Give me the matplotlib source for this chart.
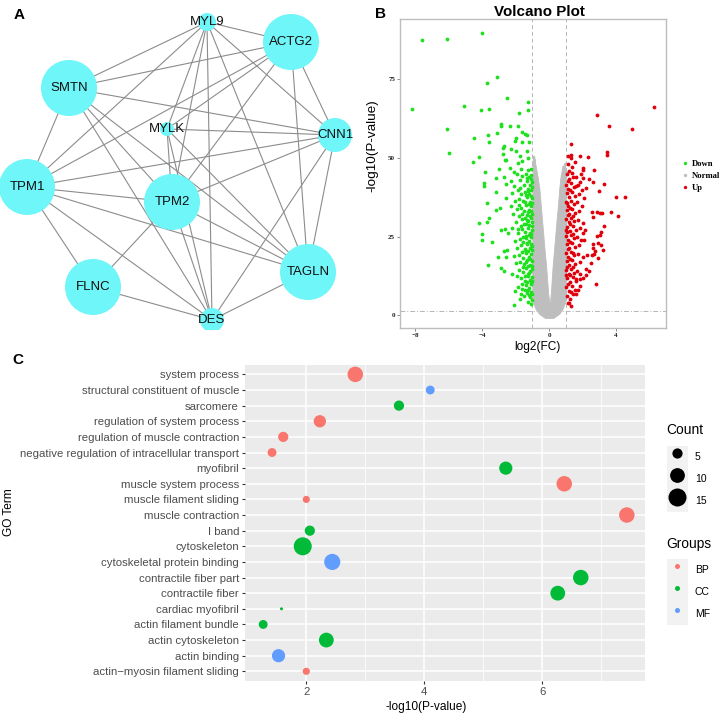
import numpy as np
import matplotlib.pyplot as plt
from matplotlib.patches import Circle, Patch
from matplotlib.lines import Line2D
from matplotlib.legend_handler import HandlerTuple

plt.rcParams['font.family'] = ['Liberation Sans', 'DejaVu Sans']

W, H = 723, 717

# ==========================
#   A: PPI network
# ==========================
genes = ['MYL9', 'ACTG2', 'SMTN', 'MYLK', 'CNN1', 'TPM1', 'TPM2', 'TAGLN', 'FLNC', 'DES']
node_x = [207, 291, 69, 167, 335, 27, 172, 308, 93, 212]
node_y = [22, 42, 88, 129, 135, 187, 202, 272, 287, 320]
node_r = [9, 28, 28, 7, 17, 28, 28, 28, 28, 12]
links = [
    ('MYL9', 'ACTG2'), ('MYL9', 'SMTN'), ('MYL9', 'TPM1'), ('MYL9', 'MYLK'),
    ('MYL9', 'TPM2'), ('MYL9', 'DES'), ('MYL9', 'TAGLN'), ('MYL9', 'CNN1'),
    ('ACTG2', 'SMTN'), ('ACTG2', 'TPM1'), ('ACTG2', 'MYLK'), ('ACTG2', 'TPM2'),
    ('ACTG2', 'CNN1'), ('ACTG2', 'TAGLN'),
    ('SMTN', 'CNN1'), ('SMTN', 'TPM1'), ('SMTN', 'TPM2'), ('SMTN', 'TAGLN'), ('SMTN', 'DES'),
    ('TPM1', 'CNN1'), ('TPM1', 'TPM2'), ('TPM1', 'TAGLN'), ('TPM1', 'FLNC'), ('TPM1', 'DES'),
    ('MYLK', 'CNN1'), ('MYLK', 'TPM2'), ('MYLK', 'TAGLN'), ('MYLK', 'DES'),
    ('CNN1', 'TPM2'), ('CNN1', 'TAGLN'), ('CNN1', 'DES'),
    ('TPM2', 'FLNC'), ('TPM2', 'DES'), ('TPM2', 'TAGLN'),
    ('TAGLN', 'DES'), ('FLNC', 'DES'),
]

# ==========================
#   B: volcano plot
# ==========================
down_pts = [
    (-7.62, 87.3), (-6.09, 87.7), (-4.0, 89.6), (-3.14, 75.5), (-3.70, 73.7), (-2.54, 68.8),
    (-8.2, 65.4), (-5.11, 66.5), (-4.05, 65.0), (-3.62, 65.5), (-1.25, 67.6), (-1.25, 65.1),
    (-1.79, 64.1), (-6.09, 59.0), (-5.97, 51.6), (-2.85, 60.8), (-2.9, 60.0), (-2.36, 60.0),
    (-1.85, 60.1), (-3.10, 57.7), (-3.64, 57.1), (-3.62, 55.0), (-4.5, 56.2), (-4.18, 50.3),
    (-4.57, 48.7), (-1.61, 58.1), (-1.47, 57.4), (-1.30, 57.1), (-2.0, 56.2), (-2.05, 55.2),
    (-1.61, 55.1), (-1.2, 54.9), (-2.27, 52.9), (-2.7, 53.8), (-2.74, 53.0), (-2.0, 52.0),
    (-1.31, 52.0), (-2.76, 51.2), (-1.77, 50.4), (-1.24, 50.0), (-2.66, 49.3), (-2.56, 49.2),
    (-1.6, 49.1), (-1.85, 48.3), (-3.02, 46.3), (-3.85, 45.4), (-2.32, 46.7), (-2.09, 45.6),
    (-1.7, 46.4), (-1.27, 46.2), (-1.06, 46.4), (-2.68, 43.9), (-3.17, 43.5), (-3.87, 42.0),
    (-3.87, 41.0), (-2.58, 41.6), (-2.3, 42.5), (-3.18, 39.0), (-2.60, 37.1), (-3.74, 35.6),
    (-4.22, 29.3), (-3.74, 29.5), (-3.57, 30.9), (-3.19, 33.5), (-2.94, 34.0), (-4.02, 25.8),
    (-4.02, 24.0), (-3.42, 23.2), (-2.88, 27.2), (-2.66, 27.3), (-2.46, 26.2), (-3.68, 16.1),
    (-3.08, 18.6), (-2.85, 14.9), (-2.70, 14.2), (-2.57, 18.6), (-2.7, 20.5), (-2.5, 20.7),
    (-2.09, 3.2), (-2.05, 7.6),
    (-1.08, 44.6), (-1.22, 44.0), (-1.41, 44.9), (-1.63, 44.3), (-1.95, 44.7),
    (-1.04, 42.3), (-1.16, 41.2), (-1.33, 42.6), (-1.52, 41.5), (-1.74, 42.8), (-2.12, 41.1),
    (-1.06, 39.8), (-1.19, 38.6), (-1.28, 40.1), (-1.46, 39.2), (-1.68, 38.4), (-1.87, 39.7),
    (-2.24, 38.9), (-1.03, 37.2), (-1.13, 36.1), (-1.31, 37.5), (-1.55, 36.4), (-1.79, 37.0),
    (-2.02, 36.2), (-1.07, 34.6), (-1.21, 33.5), (-1.37, 34.9), (-1.49, 33.2), (-1.66, 34.1),
    (-1.92, 33.7), (-2.31, 34.8), (-1.02, 32.1), (-1.15, 31.4), (-1.26, 32.7), (-1.43, 31.0),
    (-1.61, 32.3), (-1.83, 31.6), (-2.15, 32.0), (-1.05, 29.7), (-1.18, 28.6), (-1.34, 30.2),
    (-1.52, 29.0), (-1.71, 28.3), (-1.97, 29.5), (-1.03, 27.1), (-1.12, 26.2), (-1.29, 27.6),
    (-1.45, 26.5), (-1.64, 27.3), (-1.88, 26.0), (-2.21, 27.8), (-1.06, 24.8), (-1.2, 23.6),
    (-1.38, 24.5), (-1.56, 23.2), (-1.76, 24.1), (-2.04, 23.7), (-1.02, 22.0), (-1.14, 21.3),
    (-1.31, 22.6), (-1.47, 21.1), (-1.69, 22.2), (-1.93, 21.5), (-1.07, 19.6), (-1.22, 18.5),
    (-1.4, 19.9), (-1.58, 18.2), (-1.81, 19.3), (-2.13, 18.8), (-1.03, 17.2), (-1.17, 16.1),
    (-1.33, 17.5), (-1.51, 16.4), (-1.73, 17.0), (-1.99, 16.6), (-1.05, 14.7), (-1.19, 13.4),
    (-1.36, 14.9), (-1.54, 13.8), (-1.78, 14.3), (-2.22, 13.1), (-1.02, 12.1), (-1.13, 11.2),
    (-1.28, 12.4), (-1.46, 11.0), (-1.67, 11.8), (-1.06, 9.8), (-1.21, 8.7), (-1.39, 9.5),
    (-1.6, 8.3), (-1.86, 9.1), (-1.03, 6.9), (-1.15, 5.8), (-1.32, 7.2), (-1.52, 6.1),
    (-1.74, 5.3), (-1.08, 3.6), (-1.26, 4.4),
    (-1.1, 43.3), (-1.3, 43.7), (-1.01, 40.6), (-1.24, 39.4), (-1.37, 38.1), (-1.1, 37.8),
    (-1.23, 35.2), (-1.42, 35.9), (-1.01, 35.5), (-1.11, 33.0), (-1.31, 31.9), (-1.38, 29.1),
    (-1.1, 30.8), (-1.25, 29.9), (-1.01, 28.2), (-1.23, 25.4), (-1.09, 25.9), (-1.41, 25.3),
    (-1.33, 23.1), (-1.1, 22.7), (-1.25, 20.4), (-1.01, 20.6), (-1.45, 20.8), (-1.12, 18.0),
    (-1.29, 15.8), (-1.4, 16.9), (-1.01, 15.6), (-1.12, 14.1), (-1.27, 13.0), (-1.42, 12.6),
    (-1.1, 10.4), (-1.33, 10.7), (-1.01, 10.9), (-1.25, 7.9), (-1.1, 7.5), (-1.45, 8.1),
    (-1.2, 6.5), (-1.04, 4.9), (-1.63, 30.7), (-1.58, 25.0), (-1.62, 20.1), (-1.57, 15.2),
    (-1.6, 10.1), (-1.8, 35.1), (-1.85, 27.4), (-1.9, 12.6), (-1.75, 40.5), (-1.68, 6.9),
]
up_pts = [
    (6.27, 66.2), (2.87, 63.4), (3.58, 60.0), (4.94, 59.0), (1.30, 54.5), (3.45, 51.8),
    (3.45, 50.8), (1.12, 50.6), (1.30, 50.9), (1.33, 50.0), (1.87, 50.4), (2.31, 50.2),
    (1.57, 48.5), (1.10, 48.1), (1.37, 47.0), (2.03, 46.8), (2.03, 46.0), (1.20, 45.7),
    (2.69, 46.2), (1.43, 43.9), (2.03, 43.6), (2.37, 43.2), (3.29, 41.8), (2.63, 42.2),
    (2.99, 39.6), (1.83, 42.2), (1.63, 40.9), (2.23, 40.4), (1.99, 39.7), (4.02, 37.4),
    (4.52, 37.4), (4.12, 31.4), (3.70, 32.7), (3.15, 32.5), (2.87, 32.7), (2.59, 32.7),
    (2.63, 31.2), (3.03, 32.4), (3.31, 28.3), (3.09, 26.4), (3.03, 25.6), (2.89, 25.1),
    (2.93, 23.0), (2.63, 21.4), (2.73, 20.4), (2.29, 19.3), (2.59, 19.0), (2.23, 14.8),
    (2.23, 12.7), (2.03, 11.9), (2.79, 9.8), (1.83, 13.0), (1.63, 11.6), (2.15, 27.2),
    (2.03, 26.2), (2.09, 24.0), (1.83, 9.2), (1.73, 8.0), (1.63, 6.9), (1.30, 2.9),
    (1.18, 4.0), (2.7, 19.5), (2.5, 16.5), (2.4, 14.0), (2.6, 22.5), (3.1, 22.4),
    (3.2, 20.8), (2.9, 18.2),
    (1.04, 44.8), (1.18, 43.1), (1.35, 45.3), (1.62, 44.0), (1.88, 44.9),
    (1.02, 41.5), (1.15, 40.2), (1.31, 42.0), (1.48, 40.8), (1.72, 41.4),
    (1.06, 38.7), (1.21, 37.5), (1.39, 39.1), (1.55, 37.9), (1.81, 38.5), (2.1, 37.2),
    (1.03, 36.0), (1.13, 34.8), (1.29, 36.4), (1.46, 35.2), (1.67, 35.9), (1.95, 34.6),
    (1.05, 33.3), (1.19, 32.1), (1.36, 33.7), (1.53, 32.5), (1.76, 33.0),
    (1.02, 30.6), (1.16, 29.5), (1.32, 31.0), (1.49, 29.8), (1.7, 30.4), (2.0, 29.2),
    (1.07, 27.9), (1.22, 26.7), (1.41, 28.3), (1.58, 27.1), (1.83, 27.7),
    (1.03, 25.2), (1.14, 24.0), (1.3, 25.6), (1.47, 24.4), (1.66, 25.0), (1.92, 23.9),
    (1.06, 22.5), (1.2, 21.3), (1.37, 22.9), (1.55, 21.7), (1.78, 22.3),
    (1.02, 19.8), (1.15, 18.6), (1.33, 20.2), (1.5, 19.0), (1.71, 19.6), (2.05, 18.4),
    (1.05, 17.1), (1.21, 15.9), (1.39, 17.5), (1.57, 16.3), (1.84, 16.9),
    (1.03, 14.4), (1.16, 13.2), (1.31, 14.8), (1.48, 13.6), (1.69, 14.2),
    (1.07, 11.7), (1.23, 10.5), (1.4, 12.1), (1.59, 10.9), (1.85, 11.5),
    (1.02, 9.0), (1.17, 7.8), (1.35, 9.4), (1.52, 8.2),
    (1.06, 6.3), (1.25, 5.1), (1.44, 6.7), (1.1, 3.9),
    (1.1, 42.6), (1.25, 39.8), (1.08, 35.5), (1.24, 34.1), (1.11, 31.8), (1.26, 28.9),
    (1.09, 26.3), (1.24, 23.4), (1.11, 20.9), (1.27, 18.0), (1.09, 15.3), (1.25, 12.7),
    (1.12, 9.9), (1.3, 7.4), (1.01, 27.0), (1.01, 12.8), (1.43, 31.6), (1.44, 19.9),
    (1.42, 25.9), (1.45, 15.5),
]
# "Normal" genes form a dense grey V; kept as the envelope
normal_left_y = [-0.8, 0.5, 2, 4, 7, 10, 15, 20, 25, 30, 35, 40, 45, 49, 50.5]
normal_left_outer = [-0.25, -0.6, -0.8, -0.95, -1.0, -1.0, -1.0, -1.0, -1.0, -1.0, -1.0, -1.0, -0.99, -0.97, -0.94]
normal_left_inner = [0.0, 0.15, 0.1, 0.02, -0.06, -0.1, -0.17, -0.26, -0.34, -0.42, -0.5, -0.58, -0.72, -0.86, -0.9]
normal_right_y = [-0.8, 0.5, 2, 4, 7, 10, 15, 20, 25, 30, 35, 40, 44, 47.5]
normal_right_inner = [0.0, -0.1, -0.05, 0.05, 0.1, 0.14, 0.2, 0.28, 0.36, 0.44, 0.53, 0.6, 0.68, 0.8]
normal_right_outer = [0.25, 0.6, 0.8, 0.95, 1.0, 1.0, 1.0, 1.0, 1.0, 1.0, 1.0, 1.0, 0.99, 0.95]
normal_pts = [(-0.95, 50.3), (-0.9, 49.2), (0.93, 48.0), (0.86, 47.1), (-0.97, 47.8), (0.98, 45.5)]
fc_cut = [-1, 1]
p_cut = 1.3

# ==========================
#   C: GO enrichment
# ==========================
go_terms = ['actin\u2212myosin filament sliding', 'actin binding', 'actin cytoskeleton',
            'actin filament bundle', 'cardiac myofibril', 'contractile fiber',
            'contractile fiber part', 'cytoskeletal protein binding', 'cytoskeleton', 'I band',
            'muscle contraction', 'muscle filament sliding', 'muscle system process', 'myofibril',
            'negative regulation of intracellular transport', 'regulation of muscle contraction',
            'regulation of system process', 'sarcomere', 'structural constituent of muscle',
            'system process']
go_logp = [2.0, 1.53, 2.34, 1.27, 1.58, 6.26, 6.65, 2.44, 1.94, 2.06,
           7.43, 2.0, 6.37, 5.38, 1.42, 1.61, 2.23, 3.57, 4.10, 2.83]
go_count = [3, 8, 10, 4, 2, 10, 11, 12, 15, 5,
            11, 3, 11, 8, 4, 5, 7, 5, 4, 11]
go_group = ['BP', 'MF', 'CC', 'CC', 'CC', 'CC', 'CC', 'MF', 'CC', 'CC',
            'BP', 'BP', 'BP', 'CC', 'BP', 'BP', 'BP', 'CC', 'MF', 'BP']
groups = ['BP', 'CC', 'MF']
group_colors = {'BP': '#F8766D', 'CC': '#00BA38', 'MF': '#619CFF'}
count_breaks = [5, 10, 15]


def px_box(l, t, r, b):
    return [l / W, 1 - b / H, (r - l) / W, (b - t) / H]


def dot_pt(c):
    # ggplot-like area scale, counts 2..15 -> diameter in points
    d_px = 3.0 * (1 + 5 * np.sqrt((np.asarray(c, float) - 2) / 13))
    return d_px * 0.72


fig = plt.figure(figsize=(W / 100, H / 100), dpi=100)

# ---------- A ----------
axA = fig.add_axes([0, 1 - 330 / H, 360 / W, 330 / H])
axA.set_xlim(0, 360)
axA.set_ylim(330, 0)
axA.axis('off')
pos = {g: (x, y) for g, x, y in zip(genes, node_x, node_y)}
for a, b in links:
    axA.plot([pos[a][0], pos[b][0]], [pos[a][1], pos[b][1]], color='#8C8C8C', lw=0.8, zorder=1)
for g, x, y, r in zip(genes, node_x, node_y, node_r):
    axA.add_patch(Circle((x, y), r, facecolor='#6FF6F8', edgecolor='none', zorder=2))
    axA.text(x, y, g, ha='center', va='center', fontsize=9.5, color='#111111', zorder=3)

# ---------- B ----------
axB = fig.add_axes(px_box(400, 19, 666, 328))
down = np.array(down_pts)
up = np.array(up_pts)
normal = np.array(normal_pts)
grey = '#BEBEBE'
axB.fill_betweenx(normal_left_y, normal_left_outer, normal_left_inner, color=grey, lw=0.6, ec=grey)
axB.fill_betweenx(normal_right_y, normal_right_inner, normal_right_outer, color=grey, lw=0.6, ec=grey)
axB.scatter(normal[:, 0], normal[:, 1], s=6, color=grey, lw=0)
axB.scatter(down[:, 0], down[:, 1], s=7.5, color='#1EE01E', lw=0)
axB.scatter(up[:, 0], up[:, 1], s=7.5, color='#E0000C', lw=0)
for v in fc_cut:
    axB.axvline(v, color='#B5B5B5', lw=0.7, ls=(0, (4, 3)), zorder=0)
axB.axhline(p_cut, color='#B5B5B5', lw=0.7, ls=(0, (5, 2, 1, 2)), zorder=0)
axB.set_xlim(-8.92, 6.99)
axB.set_ylim(-4, 94)
axB.set_xticks([-8, -4, 0, 4])
axB.set_yticks([0, 25, 50, 75])
for s in axB.spines.values():
    s.set_color('#BDBDBD')
    s.set_linewidth(1.0)
axB.tick_params(length=2, width=0.6, color='#777777', pad=1.5, labelsize=5,
                labelcolor='#222222')
for lab in axB.get_xticklabels() + axB.get_yticklabels():
    lab.set_family('Liberation Serif')
    lab.set_fontweight('bold')
fig.text(539 / W, 1 - 12 / H, 'Volcano Plot', ha='center', va='center', fontsize=10.9, fontweight='bold')
fig.text(372 / W, 1 - 146 / H, '-log10(P-value)', ha='center', va='center', rotation=90, fontsize=9.7)
fig.text(537 / W, 1 - 347 / H, 'log2(FC)', ha='center', va='center', fontsize=8.6)
vh = [Line2D([], [], ls='', marker='o', ms=2.4, mfc=c, mec='none')
      for c in ('#1EE01E', '#BEBEBE', '#E0000C')]
axB.legend(vh, ['Down', 'Normal', 'Up'], loc='upper left', bbox_to_anchor=(681 / W, 1 - 160 / H),
           bbox_transform=fig.transFigure, frameon=False, borderpad=0, borderaxespad=0,
           handlelength=0.9, handletextpad=0.4, labelspacing=0.45,
           prop={'family': 'Liberation Serif', 'weight': 'bold', 'size': 6.2})

# ---------- C ----------
axC = fig.add_axes(px_box(245, 365, 645, 680.7))
axC.set_facecolor('#EBEBEB')
for s in axC.spines.values():
    s.set_visible(False)
yy = np.arange(len(go_terms))
for g in groups:
    idx = [i for i, gg in enumerate(go_group) if gg == g]
    axC.scatter([go_logp[i] for i in idx], yy[idx], s=dot_pt([go_count[i] for i in idx]) ** 2,
                color=group_colors[g], lw=0, zorder=3)
axC.set_xlim(0.962, 7.738)
axC.set_ylim(-0.6, len(go_terms) - 0.4)
axC.set_xticks([2, 4, 6])
axC.set_xticks([3, 5, 7], minor=True)
axC.set_yticks(yy, go_terms)
axC.grid(which='major', color='white', lw=1.1)
axC.grid(which='minor', axis='x', color='white', lw=0.55)
axC.set_axisbelow(True)
axC.tick_params(which='major', length=2.5, width=0.8, color='#333333', labelsize=8.2,
                labelcolor='#4D4D4D', pad=1.8)
axC.tick_params(which='minor', length=0)
fig.text(9 / W, 1 - 512 / H, 'GO Term', rotation=90, ha='center', va='center', fontsize=8.6)
fig.text(426 / W, 1 - 707 / H, '-log10(P-value)', ha='center', va='center', fontsize=8.6)

# legends: keys on a light grey square, titles placed as text
key_bg = '#F2F2F2'
leg_style = dict(handler_map={tuple: HandlerTuple(ndivide=1, pad=0)}, loc='upper left',
                 bbox_transform=fig.transFigure, frameon=False, borderpad=0, borderaxespad=0,
                 handlelength=2.07, handleheight=2.85, handletextpad=0.65, labelspacing=0.0,
                 fontsize=7.5)
size_handles = [(Patch(facecolor=key_bg, edgecolor='none'),
                 Line2D([], [], ls='', marker='o', ms=float(dot_pt(c)), mfc='black', mec='none'))
                for c in count_breaks]
leg1 = axC.legend(size_handles, [str(c) for c in count_breaks],
                  bbox_to_anchor=(666.5 / W, 1 - 446 / H), **leg_style)
axC.add_artist(leg1)
col_handles = [(Patch(facecolor=key_bg, edgecolor='none'),
                Line2D([], [], ls='', marker='o', ms=3.6, mfc=group_colors[g], mec='none'))
               for g in groups]
axC.legend(col_handles, groups, bbox_to_anchor=(666.5 / W, 1 - 559.3 / H), **leg_style)
fig.text(666.5 / W, 1 - 430 / H, 'Count', ha='left', va='center', fontsize=9.9)
fig.text(666.5 / W, 1 - 544 / H, 'Groups', ha='left', va='center', fontsize=9.9)

# panel letters
for lab, x, y in [('A', 19, 15), ('B', 380, 14), ('C', 18, 360)]:
    fig.text(x / W, 1 - y / H, lab, ha='center', va='center', fontsize=11, fontweight='bold')

fig.savefig('out.png', dpi=100)
